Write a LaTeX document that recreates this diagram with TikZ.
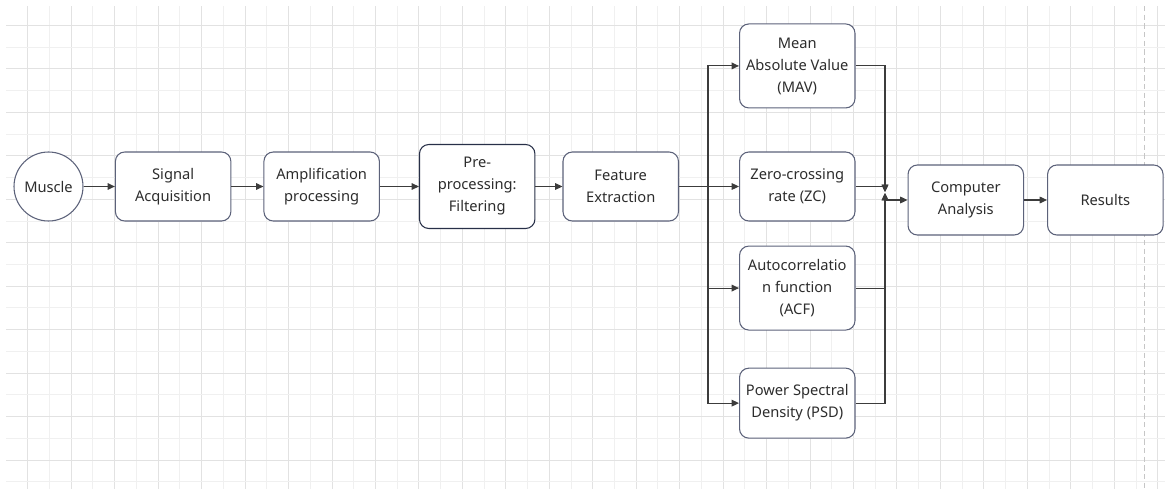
\documentclass[tikz,border=0pt]{standalone}
\usepackage{fontspec}
\setmainfont{Noto Sans}
\usetikzlibrary{positioning,arrows.meta}

\definecolor{boxline}{RGB}{92,98,122}
\definecolor{boxdark}{RGB}{40,48,72}
\definecolor{txt}{RGB}{45,45,45}
\definecolor{wire}{RGB}{60,60,60}
\definecolor{gridmaj}{RGB}{226,226,226}
\definecolor{gridmin}{RGB}{240,240,240}

\begin{document}
\begin{tikzpicture}[%
    x=0.75pt, y=-0.75pt,          % work in screen pixels
    >={Triangle[length=5.5pt,width=5pt]},
    node distance=24pt,
    ]
% -------------------------------------------------
% Box styles
\tikzset{
  base/.style={draw=boxline, line width=0.8pt, align=center, text=txt,
    fill=white, font=\fontsize{11}{16.5}\selectfont},
  box/.style={base, rounded corners=7pt, minimum width=86.6pt,
    minimum height=51.75pt, inner sep=2pt},
  tallbox/.style={box, minimum height=63pt},
  circ/.style={base, circle, minimum size=51.75pt, inner sep=0pt},
  % connector line styles
  arr/.style={->, draw=wire, line width=0.8pt},
  wireln/.style={draw=wire, line width=0.8pt},
  majorln/.style={draw=gridmaj, line width=0.75pt},
  minorln/.style={draw=gridmin, line width=0.75pt}
}
\useasboundingbox (0,0) rectangle (1165,489);
% -------------------------------------------------
% Canvas grid
\foreach \i in {0,...,52} {
  \pgfmathtruncatemacro{\odd}{mod(\i,2)}
  \pgfmathsetmacro{\gx}{round(27.3+21.73*\i)+0.5}
  \ifnum\odd=0
    \draw[majorln] (\gx,6) -- (\gx,489);
  \else
    \draw[minorln] (\gx,6) -- (\gx,489);
  \fi
}
\foreach \j in {0,...,21} {
  \pgfmathtruncatemacro{\odd}{mod(\j,2)}
  \pgfmathsetmacro{\gy}{round(25+21.73*\j)+0.5}
  \ifnum\odd=0
    \draw[majorln] (6,\gy) -- (1165,\gy);
  \else
    \draw[minorln] (6,\gy) -- (1165,\gy);
  \fi
}
\draw[gray!45, line width=0.75pt, dash pattern=on 4pt off 2.5pt] (1144.5,6) -- (1144.5,489);
% -------------------------------------------------
% Start by placing the nodes
\node [circ] (muscle) at (48.5,186.5) {Muscle};
\node [box, right=23.5pt of muscle] (sig) {Signal\\Acquisition};
\node [box, right=24pt of sig] (amp) {Amplification\\processing};
\node [tallbox, draw=boxdark, right=29.25pt of amp] (pre) {Pre-\\processing:\\Filtering};
\node [box, right=20.25pt of pre] (feat) {Feature\\Extraction};

% feature column
\node [box, right=45pt of feat] (zc) {Zero-crossing\\rate (ZC)};
\node [tallbox, above=32.25pt of zc] (mav) {Mean\\Absolute Value\\(MAV)};
\node [tallbox, below=18pt of zc] (acf) {Autocorrelatio\\n function\\(ACF)};
\node [box, minimum height=52.5pt, below=27.75pt of acf] (psd) {Power Spectral\\Density (PSD)};

\node [box, minimum height=52.5pt, right=39pt of zc, yshift=-10.125pt] (comp) {Computer\\Analysis};
\node [box, minimum height=52.5pt, right=17.25pt of comp] (res) {Results};

% -------------------------------------------------
% Connectors
\draw [arr] (muscle) -- (sig);
\draw [arr] (sig) -- (amp);
\draw [arr] (amp) -- (pre);
\draw [arr] (pre) -- (feat);

\coordinate (split) at (708,186.5);
\draw [wireln] (feat) -- (split);
\draw [arr] (split) |- (mav);
\draw [arr] (split) -- (zc);
\draw [arr] (split) |- (acf);
\draw [arr] (split) |- (psd);

\coordinate (mergetop) at (885,192);
\coordinate (mergebot) at (885,193);
\coordinate (mergeout) at (885,200);
\draw [arr] (mav) -| (mergetop);
\draw [arr] (zc) -| (mergetop);
\draw [arr] (psd) -| (mergebot);
\draw [arr] (acf) -| (mergebot);
\draw [arr] (mergeout) -- (comp);
\draw [arr] (comp) -- (res);

% -------------------------------------------------
\end{tikzpicture}
\end{document}
